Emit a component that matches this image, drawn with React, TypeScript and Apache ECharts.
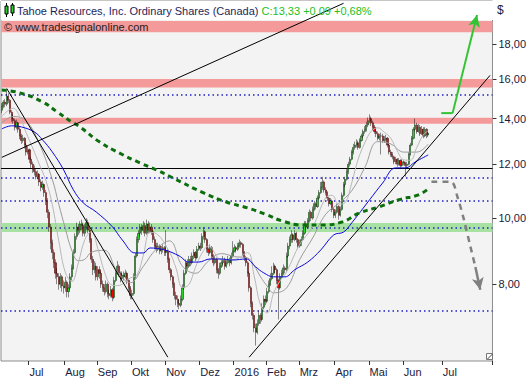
import React, { useEffect, useRef } from 'react';
import * as echarts from 'echarts';

const FONT = '"Liberation Sans", Arial, sans-serif';

const titleText = 'Tahoe Resources, Inc. Ordinary Shares (Canada)';
const quoteText = 'C:13,33 +0,09 +0,68%';
const sourceText = '© www.tradesignalonline.com';
const currencyText = '$';

const firstDate = '2015-06-08';
const holidays = ['2015-07-01', '2015-08-03', '2015-09-07', '2015-10-12', '2015-12-25', '2015-12-28', '2016-01-01', '2016-02-15', '2016-03-25', '2016-05-23'];
const futureDays = 39;
const monthNames = ['Jan', 'Feb', 'Mrz', 'Apr', 'Mai', 'Jun', 'Jul', 'Aug', 'Sep', 'Okt', 'Nov', 'Dez'];
const yTicks = [8, 10, 12, 14, 16, 18];
const yMin = 6.17;
const yMax = 20.83;

// [open, close, low, high]
const ohlc: number[][] = [
  [14.4,14.6,14.25,14.75],[14.6,14.8,14.5,14.9],[14.8,14.7,14.55,14.95],[14.7,15.1,14.6,15.4],[15.1,14.9,14.75,15.25],[14.9,14.3,14.2,14.95],[14.3,14.0,13.85,14.4],[14.0,13.9,13.75,14.2],
  [13.9,13.6,13.45,14.0],[13.6,13.8,13.5,13.95],[13.8,13.5,13.35,13.85],[13.5,13.2,13.05,13.6],[13.2,13.0,12.85,13.3],[13.0,13.1,12.9,13.25],[13.1,12.8,12.65,13.15],[12.8,12.5,12.35,12.9],
  [12.5,12.6,12.4,12.75],[12.6,12.2,12.05,12.65],[12.2,12.0,11.85,12.3],[12.0,11.8,11.65,12.1],[11.8,11.7,11.55,11.95],[11.7,11.5,11.4,11.8],[11.5,11.6,11.4,11.75],[11.6,11.3,11.15,11.65],
  [11.3,11.1,10.95,11.4],[11.1,11.2,11.0,11.35],[11.2,10.9,10.75,11.25],[10.9,10.6,10.45,11.0],[10.6,10.2,10.0,10.7],[10.2,9.7,9.55,10.3],[9.7,9.2,9.0,9.8],[9.2,8.9,8.7,9.3],
  [8.9,8.6,8.45,9.0],[8.6,8.3,8.15,8.7],[8.3,8.2,8.0,8.45],[8.2,8.0,7.85,8.3],[8.0,8.2,7.9,8.3],[8.2,7.95,7.8,8.25],[7.95,7.9,7.75,8.1],[7.9,8.05,7.8,8.2],
  [8.05,7.8,7.65,8.1],[7.8,7.9,7.65,8.0],[7.9,8.2,7.85,8.3],[8.2,8.45,8.1,8.55],[8.45,8.9,8.4,9.0],[8.9,9.4,8.85,9.5],[9.4,9.7,9.3,9.85],[9.7,9.6,9.45,9.8],
  [9.6,9.8,9.5,9.9],[9.8,9.75,9.6,9.95],[9.75,9.5,9.4,9.85],[9.5,9.7,9.4,9.8],[9.7,9.85,9.6,10.0],[9.85,9.6,9.5,9.95],[9.6,9.3,9.2,9.7],[9.3,8.7,8.6,9.35],
  [8.7,8.4,8.25,8.8],[8.4,8.5,8.3,8.65],[8.5,8.2,8.1,8.6],[8.2,8.4,8.1,8.5],[8.4,8.3,8.15,8.5],[8.3,8.0,7.9,8.35],[8.0,7.9,7.8,8.1],[7.9,7.8,7.7,8.0],
  [7.8,8.0,7.75,8.1],[8.0,7.75,7.65,8.05],[7.75,7.7,7.6,7.85],[7.7,7.85,7.65,7.95],[7.85,7.65,7.55,7.9],[7.65,8.1,7.6,8.2],[8.1,8.3,8.05,8.4],[8.3,8.5,8.25,8.65],
  [8.5,8.3,8.2,8.55],[8.3,8.15,8.05,8.35],[8.15,8.25,8.1,8.35],[8.25,8.2,8.1,8.35],[8.2,8.3,8.15,8.4],[8.3,8.1,8.0,8.35],[8.1,7.9,7.8,8.15],[7.9,7.7,7.6,7.95],
  [7.7,7.75,7.6,7.85],[7.75,8.2,7.7,8.3],[8.2,8.8,8.15,8.9],[8.8,9.3,8.75,9.4],[9.3,9.5,9.2,9.6],[9.5,9.7,9.4,9.8],[9.7,9.6,9.45,9.8],[9.6,9.75,9.5,9.9],
  [9.75,9.5,9.4,9.85],[9.5,9.8,9.45,9.95],[9.8,9.6,9.5,9.9],[9.6,9.7,9.5,9.85],[9.7,9.55,9.45,9.8],[9.55,9.3,9.2,9.6],[9.3,9.1,9.0,9.4],[9.1,9.0,8.9,9.2],
  [9.0,9.1,8.95,9.2],[9.1,8.95,8.85,9.15],[8.95,9.0,8.85,9.1],[9.0,9.05,8.9,9.15],[9.05,8.9,8.8,9.1],[8.9,8.95,8.8,9.6],[8.95,8.7,8.6,9.0],[8.7,8.4,8.3,8.75],
  [8.4,8.2,8.1,8.45],[8.2,8.0,7.9,8.25],[8.0,7.7,7.6,8.05],[7.7,7.6,7.45,7.8],[7.6,7.5,7.4,7.7],[7.5,7.45,7.35,7.6],[7.45,7.6,7.4,7.7],[7.6,7.9,7.55,8.0],
  [7.9,8.3,7.85,8.4],[8.3,8.6,8.25,8.7],[8.6,8.5,8.4,8.7],[8.5,8.7,8.45,8.8],[8.7,8.6,8.5,8.8],[8.6,8.8,8.55,8.9],[8.8,8.9,8.7,9.0],[8.9,8.75,8.65,8.95],
  [8.75,9.0,8.7,9.1],[9.0,9.1,8.95,9.2],[9.1,9.05,8.95,9.2],[9.05,9.4,9.0,9.5],[9.4,9.55,9.3,9.7],[9.55,9.3,9.2,9.6],[9.3,9.0,8.9,9.35],[9.0,8.9,8.8,9.05],
  [8.9,9.05,8.85,9.15],[9.05,8.8,8.7,9.1],[8.8,8.6,8.5,8.85],[8.6,8.7,8.55,8.8],[8.7,8.4,8.3,8.75],[8.4,8.3,8.15,8.45],[8.3,8.5,8.25,8.6],[8.5,8.6,8.45,8.7],
  [8.6,8.7,8.55,8.8],[8.7,8.5,8.4,8.75],[8.5,8.6,8.45,8.7],[8.6,8.7,8.55,8.8],[8.7,8.6,8.5,8.75],[8.6,8.8,8.55,8.9],[8.8,8.95,8.75,9.25],[8.95,9.05,8.9,9.15],
  [9.05,9.0,8.9,9.1],[9.0,9.1,8.95,9.2],[9.1,9.2,9.05,9.3],[9.2,9.15,9.05,9.25],[9.15,8.9,8.8,9.2],[8.9,8.75,8.65,8.95],[8.75,8.6,8.5,8.8],[8.6,8.3,8.2,8.65],
  [8.3,7.9,7.8,8.35],[7.9,7.5,7.4,7.95],[7.5,7.2,7.1,7.55],[7.2,6.9,6.8,7.25],[6.9,6.8,6.5,7.0],[6.8,7.0,6.75,7.1],[7.0,7.2,6.95,7.3],[7.2,7.1,7.0,7.25],
  [7.1,7.4,7.05,7.5],[7.4,7.6,7.35,7.7],[7.6,7.55,7.45,7.7],[7.55,7.8,7.5,7.9],[7.8,8.0,7.75,8.1],[8.0,8.15,7.95,8.3],[8.15,8.3,8.1,8.5],[8.3,8.5,8.25,8.6],
  [8.5,8.4,8.3,8.55],[8.4,8.1,8.0,8.45],[8.1,7.9,7.1,8.15],[7.9,8.2,7.85,8.3],[8.2,8.3,8.15,8.4],[8.3,8.45,8.25,8.55],[8.45,8.4,8.3,8.5],[8.4,8.8,8.35,8.9],
  [8.8,9.1,8.75,9.2],[9.1,9.3,9.0,9.4],[9.3,9.45,9.2,9.6],[9.45,9.3,9.2,9.5],[9.3,9.5,9.25,9.6],[9.5,9.3,9.2,9.55],[9.3,9.1,9.0,9.35],[9.1,9.2,9.05,9.3],
  [9.2,9.3,9.1,9.4],[9.3,9.5,9.25,9.6],[9.5,9.8,9.45,9.9],[9.8,9.7,9.6,9.9],[9.7,9.9,9.65,10.0],[9.9,10.2,9.85,10.3],[10.2,10.0,9.9,10.25],[10.0,10.3,9.95,10.4],
  [10.3,10.5,10.25,10.6],[10.5,10.4,10.3,10.55],[10.4,10.7,10.35,10.8],[10.7,10.9,10.65,11.0],[10.9,11.1,10.85,11.3],[11.1,11.3,11.0,11.5],[11.3,11.0,10.9,11.35],[11.0,10.9,10.8,11.1],
  [10.9,10.7,10.6,10.95],[10.7,10.5,10.4,10.75],[10.5,10.6,10.45,10.7],[10.6,10.3,10.2,10.65],[10.3,10.1,10.0,10.35],[10.1,10.2,10.0,10.3],[10.2,10.4,10.15,10.5],[10.4,10.1,9.95,10.45],
  [10.1,10.3,10.05,10.4],[10.3,10.8,10.25,10.9],[10.8,11.2,10.75,11.3],[11.2,11.4,11.1,11.5],[11.4,11.7,11.35,11.8],[11.7,12.0,11.6,12.1],[12.0,12.2,11.9,12.3],[12.2,12.5,12.15,12.6],
  [12.5,12.7,12.4,12.85],[12.7,12.8,12.6,12.95],[12.8,12.9,12.7,13.05],[12.9,12.7,12.6,13.0],[12.7,13.0,12.65,13.1],[13.0,13.2,12.95,13.3],[13.2,13.4,13.1,13.5],[13.4,13.5,13.3,13.65],
  [13.5,13.7,13.4,13.85],[13.7,13.9,13.6,14.05],[13.9,14.0,13.8,14.2],[14.0,13.8,13.65,14.1],[13.8,13.6,13.45,13.9],[13.6,13.4,13.3,13.7],[13.4,13.3,13.15,13.5],[13.3,13.1,13.0,13.4],
  [13.1,13.2,13.0,13.3],[13.2,13.2,12.4,13.35],[13.2,13.0,12.9,13.3],[13.0,13.05,12.9,13.2],[13.05,13.1,12.95,13.25],[13.1,12.8,12.7,13.15],[12.8,12.5,12.4,12.85],[12.5,12.4,12.3,12.6],
  [12.4,12.3,12.2,12.5],[12.3,12.1,12.0,12.35],[12.1,12.2,12.0,12.3],[12.2,12.0,11.9,12.25],[12.0,12.15,11.95,12.25],[12.15,11.95,11.85,12.2],[11.95,12.1,11.9,12.2],[12.1,12.05,11.95,12.15],
  [12.05,11.95,11.5,12.1],[11.95,12.0,11.85,12.1],[12.0,12.4,11.95,12.5],[12.4,12.8,12.35,12.9],[12.8,13.1,12.75,13.2],[13.1,13.5,13.05,13.6],[13.5,13.7,13.4,14.0],[13.7,13.4,13.3,13.8],
  [13.4,13.6,13.35,13.75],[13.6,13.3,13.2,13.7],[13.3,13.5,13.25,13.65],[13.5,13.2,13.1,13.6],[13.2,13.5,13.15,13.6],[13.5,13.24,13.1,13.55],[13.24,13.33,13.15,13.45]
];

// moving averages, [trading-day index, price]
const ma200 = [[0,15.42],[11,15.27],[25,14.81],[34,14.32],[43,13.84],[48,13.61],[60,12.94],[72,12.47],[85,12.05],[95,11.77],[105,11.46],[124,10.89],[138,10.56],[151,10.35],[163,10.11],[172,9.91],[185,9.77],[196,9.77],[209,9.87],[220,10.18],[232,10.39],[244,10.64],[256,10.82],[262,11.04]];
const maBlue = [[0,13.52],[6,13.66],[12,13.61],[20,13.38],[25,13.03],[31,12.51],[38,11.77],[44,11.0],[50,10.53],[58,10.21],[68,9.71],[74,9.29],[82,8.89],[87,8.89],[91,9.04],[100,8.98],[109,8.8],[115,8.62],[121,8.62],[128,8.71],[134,8.71],[142,8.68],[150,8.71],[156,8.48],[161,8.31],[167,8.2],[174,8.2],[180,8.4],[188,8.62],[196,8.98],[204,9.45],[210,9.54],[215,9.84],[226,10.64],[234,11.26],[242,11.85],[248,11.85],[254,12.09],[262,12.38]];
const maFast = [[0,14.1],[7,14.5],[11,14.1],[15,13.34],[19,12.67],[23,12.0],[27,11.37],[31,10.47],[35,9.26],[39,8.33],[43,8.07],[47,8.59],[51,9.3],[55,9.55],[59,9.02],[63,8.35],[67,7.99],[71,7.96],[79,8.17],[83,8.25],[87,8.82],[91,9.53],[95,9.49],[103,8.92],[107,8.45],[111,7.91],[115,7.99],[119,8.47],[123,8.88],[127,9.1],[135,8.69],[143,8.7],[151,8.9],[155,8.24],[159,7.45],[163,7.26],[167,7.76],[171,8.09],[175,8.34],[183,9.15],[191,9.7],[199,10.71],[203,10.8],[207,10.48],[211,10.54],[215,11.26],[219,12.21],[223,12.89],[227,13.41],[231,13.57],[235,13.37],[239,13.1],[243,12.55],[247,12.18],[251,12.16],[255,12.7],[259,13.25],[262,13.43]];
const maSlow = [[0,13.8],[7,14.1],[15,13.89],[23,12.87],[31,11.4],[35,10.48],[39,9.66],[43,8.97],[47,8.66],[51,8.7],[55,8.91],[63,8.97],[71,8.34],[79,8.04],[87,8.5],[95,9.01],[103,9.26],[111,8.5],[119,8.3],[127,8.65],[135,8.87],[143,8.78],[151,8.74],[155,8.52],[159,8.2],[163,7.95],[167,7.77],[175,7.9],[183,8.69],[191,9.35],[199,10.13],[207,10.51],[215,10.97],[223,11.86],[231,12.95],[239,12.85],[247,12.5],[255,12.5],[262,12.84]];

const redBands = [[18.75, 19.47], [15.55, 16.0], [13.76, 14.04]];
const greenBands = [[9.54, 9.84]];
const dottedLevels = [15.16, 11.48, 10.55, 9.66, 7.34];
const solidLevels = [11.79];
const trendLines = [
  [[0, 12.28], [210, 20.67]],
  [[3, 15.5], [102, 6.25]],
  [[152, 6.25], [300, 16.2]],
];
const greenArrow = [[270, 14.26], [277, 14.26], [292, 19.87]];
const grayArrow = [[264, 11.31], [276, 11.31], [280, 10.74], [284, 9.94], [288, 9.07], [291, 8.48], [294, 7.85]];

function buildDates(): string[] {
  const out: string[] = [];
  const hol = new Set(holidays);
  const day = 86400000;
  let t = Date.parse(firstDate + 'T00:00:00Z');
  while (out.length < ohlc.length) {
    const d = new Date(t);
    const wd = d.getUTCDay();
    const s = d.toISOString().slice(0, 10);
    if (wd !== 0 && wd !== 6 && !hol.has(s)) out.push(s);
    t += day;
  }
  for (let k = 0; k < futureDays; k++) {
    out.push(new Date(t).toISOString().slice(0, 10));
    t += day;
  }
  return out;
}

export default function App() {
  const ref = useRef<HTMLDivElement>(null);
  useEffect(() => {
    if (!ref.current) return;
    const chart = echarts.init(ref.current, undefined, { renderer: 'svg' });
    const L = Math.log;
    const dates = buildDates();
    const isMonthStart = (idx: number) => idx > 0 && dates[idx].slice(0, 7) !== dates[idx - 1].slice(0, 7);
    const toLn = (pts: number[][]) => pts.map(([i, p]) => [i, L(p)]);
    const fmtPrice = (v: number) => Math.exp(v).toFixed(2).replace('.', ',');
    const lnTicks = yTicks.map((v) => L(v));

    const maLine = (data: number[][], color: string, width: number, type: any, smooth: number) => ({
      type: 'line', data: toLn(data), symbol: 'none', showSymbol: false, smooth, z: 4, silent: true,
      lineStyle: { color, width, type, cap: 'butt' },
    });

    const option: any = {
      animation: false,
      textStyle: { fontFamily: FONT },
      grid: { left: 1, top: 1, width: 493, height: 360, show: true, backgroundColor: '#f3f3f3', borderColor: '#8c8c8c', borderWidth: 1 },
      xAxis: {
        type: 'category', data: dates, boundaryGap: true,
        axisLine: { show: false },
        axisTick: { show: true, interval: (i: number) => isMonthStart(i), length: 4, lineStyle: { color: '#333' } },
        axisLabel: {
          interval: (i: number) => isMonthStart(i), align: 'left', margin: 5, padding: [0, 0, 0, 0],
          fontSize: 11, color: '#1a1a3a', fontFamily: FONT,
          formatter: (v: string) => { const m = +v.slice(5, 7) - 1; return m === 0 ? v.slice(0, 4) : monthNames[m]; },
        },
        splitLine: { show: false },
      },
      yAxis: {
        type: 'value', position: 'right', min: L(yMin), max: L(yMax),
        axisLine: { show: false },
        axisTick: { show: true, customValues: lnTicks, length: 4, lineStyle: { color: '#333' } },
        axisLabel: { customValues: lnTicks, formatter: fmtPrice, margin: 6, fontSize: 11, color: '#1a1a3a', fontFamily: FONT },
        splitLine: { show: false },
      },
      series: [
        {
          type: 'line', data: [], z: 1, silent: true,
          markArea: {
            silent: true, z: 1,
            data: [
              ...redBands.map(([lo, hi]) => [{ yAxis: L(hi), itemStyle: { color: '#f59a9a' } }, { yAxis: L(lo) }]),
              ...greenBands.map(([lo, hi]) => [{ yAxis: L(hi), itemStyle: { color: '#a8e2a2' } }, { yAxis: L(lo) }]),
            ],
          },
          markLine: {
            silent: true, z: 1, symbol: ['none', 'none'], label: { show: false },
            data: [
              ...dottedLevels.map((v) => ({ yAxis: L(v), lineStyle: { color: '#2020c8', type: [1.5, 3], width: 1.5 } })),
              ...solidLevels.map((v) => ({ yAxis: L(v), lineStyle: { color: '#000', type: 'solid', width: 1.2 } })),
            ],
          },
        },
        {
          type: 'candlestick', z: 3, silent: true, barWidth: 1.6,
          data: ohlc.map((r) => r.map((v) => L(v))),
          itemStyle: { color: '#22d622', color0: '#ff0000', borderColor: '#000', borderColor0: '#000', borderWidth: 0.45 },
        },
        maLine(maSlow, '#9a9a9a', 1, 'solid', 0.4),
        maLine(maFast, '#b8b8b8', 1, 'solid', 0.4),
        maLine(maBlue, '#0a0ad8', 1, 'solid', 0.4),
        maLine(ma200, '#0c6e0c', 3, [5, 4], 0.5),
        ...trendLines.map((seg) => ({
          type: 'line', data: toLn(seg), symbol: 'none', z: 5, silent: true,
          lineStyle: { color: '#000', width: 1 },
        })),
        {
          type: 'line', data: toLn(greenArrow.slice(0, 2)), symbol: 'none', z: 6, silent: true,
          lineStyle: { color: '#33c433', width: 2 },
          markLine: {
            silent: true, z: 6, symbol: ['none', 'arrow'], symbolSize: [9, 12], label: { show: false },
            lineStyle: { color: '#33c433', width: 2, type: 'solid' },
            data: [[{ coord: [greenArrow[1][0], L(greenArrow[1][1])] }, { coord: [greenArrow[2][0], L(greenArrow[2][1])] }]],
          },
        },
        {
          type: 'line', data: toLn(grayArrow.slice(0, grayArrow.length - 1)), symbol: 'none', z: 6, silent: true, smooth: 0.3,
          lineStyle: { color: '#808080', width: 2.5, type: [6, 5] },
          markLine: {
            silent: true, z: 6, symbol: ['none', 'arrow'], symbolSize: [9, 12], label: { show: false },
            lineStyle: { color: '#808080', width: 2.5, type: 'solid' },
            data: [[
              { coord: [grayArrow[grayArrow.length - 2][0], L(grayArrow[grayArrow.length - 2][1])] },
              { coord: [grayArrow[grayArrow.length - 1][0], L(grayArrow[grayArrow.length - 1][1])] },
            ]],
          },
        },
      ],
      graphic: [
        { type: 'rect', z: 1, silent: true, shape: { x: 1, y: 1, width: 493, height: 19 }, style: { fill: '#ffffff' } },
        { type: 'line', z: 10, silent: true, shape: { x1: 6.5, y1: 3, x2: 6.5, y2: 17 }, style: { stroke: '#000', lineWidth: 1 } },
        { type: 'rect', z: 10, silent: true, shape: { x: 5, y: 6, width: 3, height: 8 }, style: { fill: '#2bd12b', stroke: '#000', lineWidth: 1 } },
        { type: 'line', z: 10, silent: true, shape: { x1: 12.5, y1: 3, x2: 12.5, y2: 16 }, style: { stroke: '#000', lineWidth: 1 } },
        { type: 'rect', z: 10, silent: true, shape: { x: 11, y: 5, width: 3, height: 8 }, style: { fill: '#2bd12b', stroke: '#000', lineWidth: 1 } },
        {
          type: 'text', z: 10, silent: true, x: 17, y: 11,
          style: {
            text: '{a|' + titleText + '} {b|' + quoteText + '}',
            verticalAlign: 'middle', font: '11px ' + FONT,
            rich: {
              a: { fill: '#1e1e5a', fontSize: 11, fontFamily: FONT },
              b: { fill: '#22c022', fontSize: 11, fontFamily: FONT },
            },
          },
        },
        { type: 'text', z: 10, silent: true, x: 4, y: 27, style: { text: sourceText, fill: '#222', font: '11px ' + FONT, verticalAlign: 'middle' } },
        { type: 'text', z: 10, silent: true, x: 497, y: 10, style: { text: currencyText, fill: '#1a1a3a', font: '12px ' + FONT, verticalAlign: 'middle' } },
        { type: 'rect', z: 10, silent: true, shape: { x: 486.5, y: 353.5, width: 6, height: 6 }, style: { fill: '#fff', stroke: '#777', lineWidth: 1 } },
        { type: 'line', z: 10, silent: true, shape: { x1: 487.5, y1: 359, x2: 492.5, y2: 354 }, style: { stroke: '#444', lineWidth: 1 } },
      ],
    };
    chart.setOption(option);
    return () => chart.dispose();
  }, []);
  return (
    <div style={{ position: 'absolute', left: 0, top: 0, width: 529, height: 380, background: '#fff' }}>
      <div ref={ref} style={{ width: 529, height: 380 }} />
    </div>
  );
}
